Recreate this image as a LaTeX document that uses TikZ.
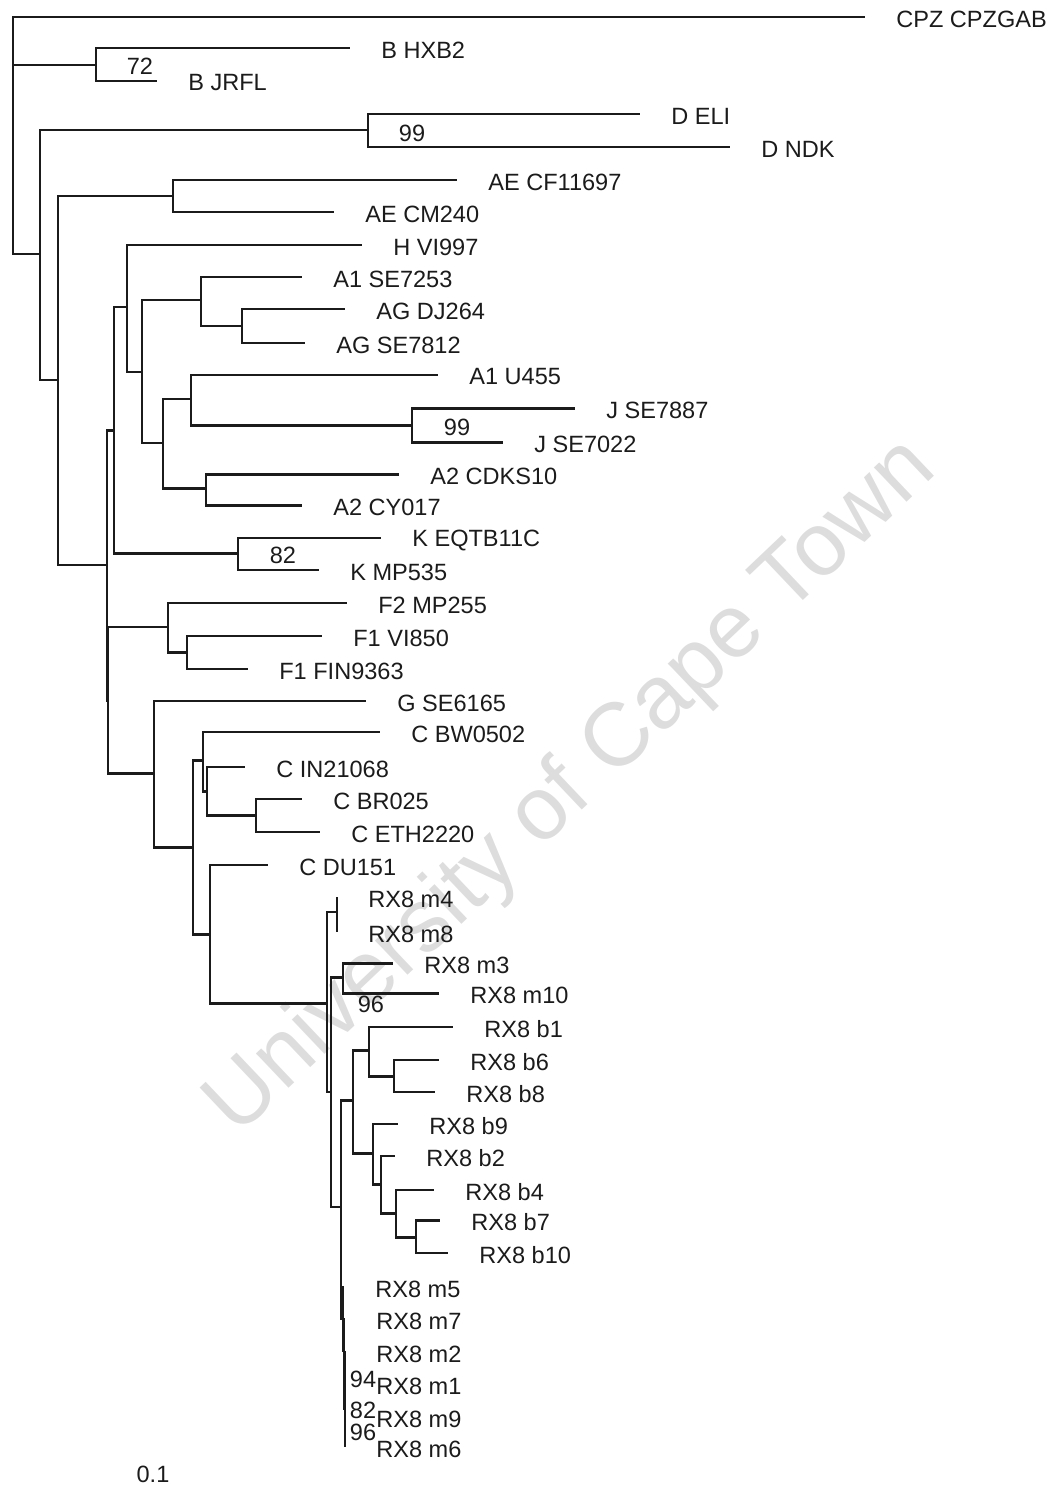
\documentclass[tikz,border=0pt]{standalone}
\usepackage{fontspec}
\setmainfont{Liberation Sans}
\usepackage{tikz}
\usetikzlibrary{positioning}
\definecolor{ink}{HTML}{1B1B1B}
\definecolor{wmark}{HTML}{DDDDDD}
\tikzset{
  br/.style={draw=ink, line width=0.95pt},
  brt/.style={draw=ink, line width=1.7pt},
  taxon/.style={anchor=west, inner sep=0pt, yshift=-0.04cm, font=\fontsize{13.4}{16}\selectfont, text=ink},
  boot/.style={inner sep=0pt, font=\fontsize{13.4}{16}\selectfont, text=ink},
}

\begin{document}
\begin{tikzpicture}[x=0.02cm, y=-0.02cm, node distance=0.62cm]
\useasboundingbox (0,0) rectangle (1053,1491);
\node[rotate=43.5, text=wmark, inner sep=0pt, font=\fontsize{51}{51}\selectfont] (wm) at (572,788) {University of Cape Town};
\foreach \n/\x/\y in {root/13/65, nB/96/65, n40/40/254, nD/368/130, n58/58/380, nAE/173/196,
  n107/107/565, n114/114/430, n127/127/307, n142/142/372, n201/201/300, nAG/242/326,
  n163/163/443, n191/191/399, nJ/412/425, nA2/206/488, nK/238/553, n108/108/700,
  nF/168/627, nF1/187/652, n154/154/773, n193/193/847, n203/203/760, n207/207/791,
  n256/256/815, n210/210/934, nRX/327/1003, nm48/337/912, nRB/331/1092, nm310/343/977,
  nRC/341/1207, nb/353/1100, nb1/369/1050, nb68/394/1076, nb9/373/1153, nb2/381/1184,
  nb4/396/1213, nb710/416/1237, nmD/343/1318, nmE/344/1350, nmF/344.5/1380,
  nmG/345/1408, nmH/345/1432}
  \coordinate (\n) at (\x,\y);
\foreach \n/\x/\y/\t in {cpz/865/17/CPZ CPZGAB, hxb/350/48/B HXB2, jrfl/157/81/B JRFL,
  deli/640/114/D ELI, dndk/730/147/D NDK, aecf/457/180/AE CF11697, aecm/334/212/AE CM240,
  hvi/362/245/H VI997, a1se/302/277/A1 SE7253, agdj/345/309/AG DJ264, agse/305/343/AG SE7812,
  a1u/438/375/A1 U455, j87/575/408/J SE7887, j22/503/442/J SE7022, a2cd/399/474/A2 CDKS10,
  a2cy/302/505/A2 CY017, keq/381/538/K EQTB11C, kmp/319/570/K MP535, f2mp/347/603/F2 MP255,
  f1vi/322/636/F1 VI850, f1fin/248/669/F1 FIN9363, gse/366/701/G SE6165, cbw/380/732/C BW0502,
  cin/245/767/C IN21068, cbr/302/799/C BR025, ceth/320/832/C ETH2220, cdu/268/865/C DU151,
  m4/337/897/RX8 m4, m8/337/932/RX8 m8, m3/393/963/RX8 m3, m10/439/993/RX8 m10,
  b1/453/1027/RX8 b1, b6/439/1060/RX8 b6, b8/435/1092/RX8 b8, b9/398/1124/RX8 b9,
  b2/395/1156/RX8 b2, b4/434/1190/RX8 b4, b7/440/1220/RX8 b7, b10/448/1253/RX8 b10,
  m5/344/1287/RX8 m5, m7/345/1319/RX8 m7, m2/345/1352/RX8 m2, m1/345/1384/RX8 m1,
  m9/345/1417/RX8 m9, m6/345/1447/RX8 m6}
  {\coordinate (\n) at (\x,\y);
   \node[taxon, right=of \n] (t\n) {\t};}
\foreach \p/\c in {nB/hxb, nB/jrfl, n40/n58, nD/deli, nD/dndk, n58/n107, nAE/aecm, n127/hvi,
  n142/n201, n142/n163, nK/keq, nK/kmp, n108/nF, nF/f2mp, nF1/f1vi, nF1/f1fin, n154/gse,
  n203/cbw, n207/cin, n256/cbr, n256/ceth, n210/cdu, nRX/nm48, nm48/m4, nm48/m8, nRX/nRB,
  nRB/nRC, nb1/b1, nb68/b6, nb68/b8, nb9/b9, nb2/b2, nb4/b4, nb710/b10, nmD/m5, nmE/m7}
  \draw[br] (\p) |- (\c);
\foreach \p/\c in {root/cpz, root/nB, root/n40, n40/nD, n58/nAE, nAE/aecf, n107/n114, n114/n127,
  n114/nK, n127/n142, n201/a1se, n201/nAG, nAG/agdj, nAG/agse, n163/n191, n163/nA2, n191/a1u,
  n191/nJ, nJ/j87, nJ/j22, nA2/a2cd, nA2/a2cy, n107/n108, n108/n154, nF/nF1, n154/n193,
  n193/n203, n193/n210, n203/n207, n207/n256, n210/nRX, nRB/nm310, nm310/m3, nm310/m10,
  nRC/nb, nb/nb1, nb/nb9, nb1/nb68, nb9/nb2, nb2/nb4, nb4/nb710, nb710/b7, nRC/nmD,
  nmD/nmE, nmE/nmF, nmF/m2, nmF/nmG, nmG/m1, nmG/nmH, nmH/m9, nmH/m6}
  \draw[brt] (\p) |- (\c);
\node[boot] (bs72) at (140,66) {72};
\node[boot] (bs99d) at (412,133) {99};
\node[boot] (bs99j) at (457,427) {99};
\node[boot] (bs82k) at (283,555) {82};
\node[boot] (bs96m) at (371,1004) {96};
\node[boot] (bs94) at (363,1379) {94};
\node[boot] (bs82m) at (363,1410) {82};
\node[boot] (bs96b) at (363,1432) {96};
\node[boot] (scl) at (153,1474) {0.1};
\end{tikzpicture}
\end{document}
